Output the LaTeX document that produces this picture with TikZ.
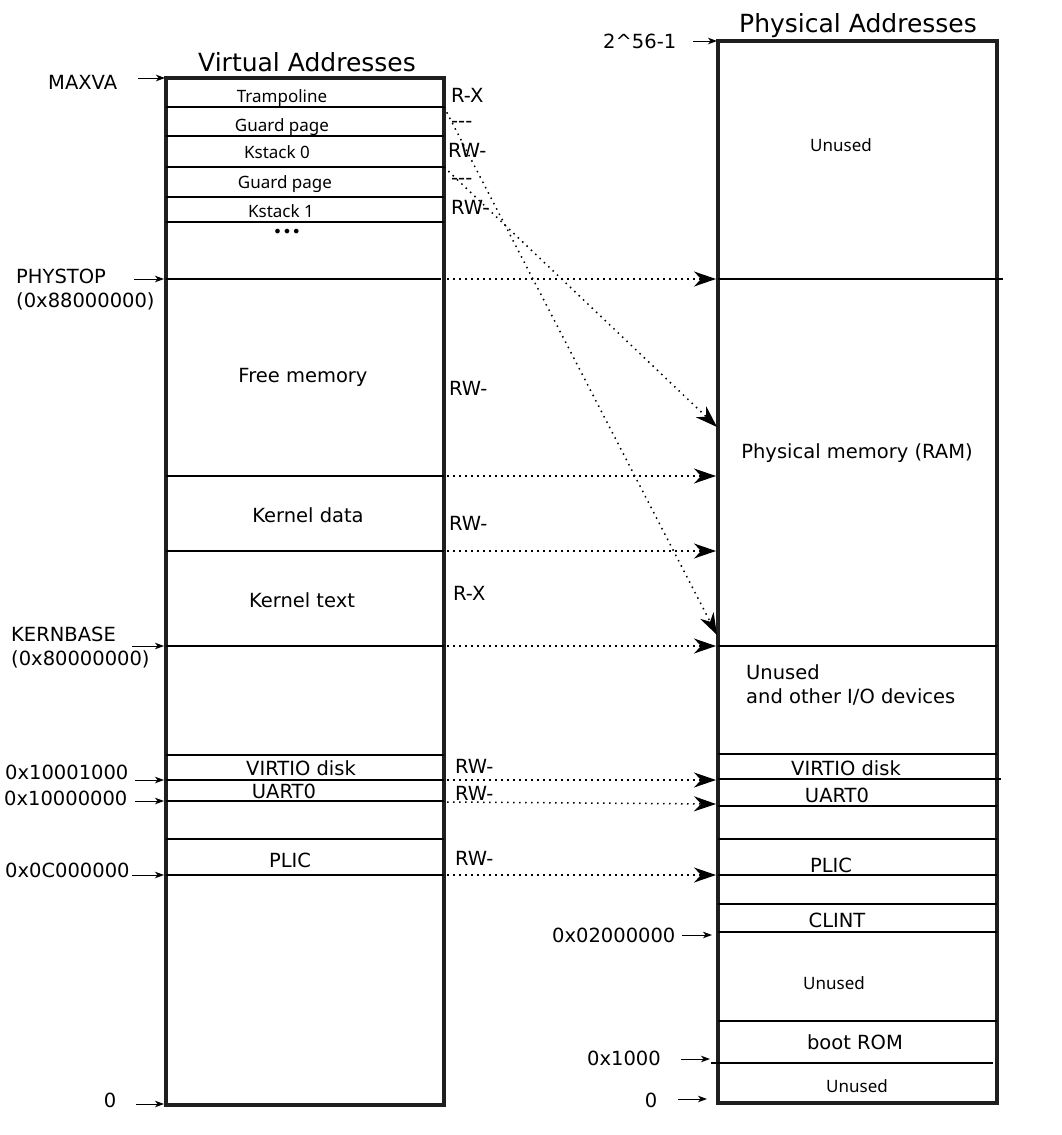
\documentclass[tikz,border=0pt]{standalone}
\usepackage{fontspec}
\setmainfont{DejaVu Sans}
\newfontfamily\notosans{Noto Sans}
\usetikzlibrary{arrows.meta}
\begin{document}
\begin{tikzpicture}[x=1pt,y=-1pt,
  box/.style={draw=black!88, line width=3.8pt, rectangle, inner sep=0pt, outer sep=0pt, anchor=north west},
  sep/.style={line width=1.3pt},
  lbl/.style={font=\fontsize{19.5}{22}\selectfont, inner sep=0pt, anchor=base},
  lbll/.style={lbl, anchor=base west},
  ttl/.style={font=\fontsize{25}{28}\selectfont, inner sep=0pt, anchor=base},
  sm/.style={font=\notosans\fontsize{17}{20}\selectfont, inner sep=0pt, anchor=base},
  ptr/.style={line width=1pt, -{Stealth[length=9pt,width=6.5pt,inset=2.5pt]}},
  map/.style={line width=1.5pt, dash pattern=on 1.5pt off 4.5pt, -{Stealth[length=22pt,width=15pt,inset=7pt]}},
]
\useasboundingbox (0,0) rectangle (1061,1135);

% ---------- boxes ----------
\node[box, minimum width=278pt, minimum height=1027pt] (vbox) at (166,78) {};
\node[box, minimum width=279pt, minimum height=1062pt] (pbox) at (718,41) {};

\node[ttl] (vtitle) at (307,71) {Virtual Addresses};
\node[ttl] (ptitle) at (858,32) {Physical Addresses};

% ---------- virtual separators ----------
\foreach \y in {107,136,167,197,222,476,551,646,755,780,801,839,875}
  \draw[sep] (166,\y) -- (444,\y);
\draw[sep] (166,279) -- (441,279);

% ---------- physical separators ----------
\foreach \y in {646,754,806,839,875,904,932,1021}
  \draw[sep] (718,\y) -- (997,\y);
\draw[sep] (718,279) -- (1003,279);
\draw[sep] (718,779) -- (1001,779);
\draw[sep] (711,1063) -- (993,1063);

% ---------- virtual texts ----------
\node[sm] (tramp) at (282,102) {Trampoline};
\node[sm] (guard1) at (282,131) {Guard page};
\node[sm] (kst0) at (277,158) {Kstack 0};
\node[sm] (guard2) at (285,188) {Guard page};
\node[sm] (kst1) at (281,217) {Kstack 1};
\node[font=\fontsize{16}{18}\selectfont, inner sep=0pt, anchor=base] (dots) at (287,237) {•••};
\node[lbl] (free) at (303,382) {Free memory};
\node[lbl] (kdata) at (308,522) {Kernel data};
\node[lbl] (ktext) at (302,607) {Kernel text};
\node[lbl] (vvirtio) at (301,775) {VIRTIO disk};
\node[lbl] (vuart) at (284,798) {UART0};
\node[lbl] (vplic) at (290,867) {PLIC};

% ---------- permissions ----------
\node[lbll] (p1) at (451,102) {R-X};
\node[lbll] (p2) at (451,127) {-\kern0pt-\kern0pt-};
\node[lbll] (p3) at (448,157) {RW-};
\node[lbll] (p4) at (451,184) {-\kern0pt-\kern0pt-};
\node[lbll] (p5) at (451,214) {RW-};
\node[lbll] (p6) at (449,395) {RW-};
\node[lbll] (p7) at (449,530) {RW-};
\node[lbll] (p8) at (453,600) {R-X};
\node[lbll] (p9) at (455,773) {RW-};
\node[lbll] (p10) at (455,800) {RW-};
\node[lbll] (p11) at (455,865) {RW-};

% ---------- physical texts ----------
\node[sm] (unused1) at (841,151) {Unused};
\node[lbl] (ram) at (857,458) {Physical memory (RAM)};
\node[lbll] (unused2) at (746,679) {Unused};
\node[lbll] (iodev) at (746,703) {and other I/O devices};
\node[lbl] (pvirtio) at (846,775) {VIRTIO disk};
\node[lbl] (puart) at (837,802) {UART0};
\node[lbl] (pplic) at (831,872) {PLIC};
\node[lbl] (clint) at (837,927) {CLINT};
\node[sm] (unused3) at (834,989) {Unused};
\node[lbl] (bootrom) at (855,1049) {boot ROM};
\node[sm] (unused4) at (857,1092) {Unused};

% ---------- virtual address labels ----------
\node[lbll] (maxva) at (48,89) {MAXVA};
\node[lbll] (phystop) at (16,283) {PHYSTOP};
\node[lbll] (phystopv) at (16,307) {(0x88000000)};
\node[lbll] (kernbase) at (11,641) {KERNBASE};
\node[lbll] (kernbasev) at (11,665) {(0x80000000)};
\node[lbll] (a1) at (5,779) {0x10001000};
\node[lbll] (a2) at (4,805) {0x10000000};
\node[lbll] (a3) at (5,877) {0x0C000000};
\node[lbl] (vzero) at (110,1107) {0};

% ---------- physical address labels ----------
\node[lbll] (pmax) at (603,48) {2\textasciicircum 56-1};
\node[lbll] (clintaddr) at (552,942) {0x02000000};
\node[lbll] (romaddr) at (587,1065) {0x1000};
\node[lbl] (pzero) at (651,1107) {0};

% ---------- pointer arrows ----------
\coordinate (s1) at (138,78);   \coordinate (e1) at (165,78);
\coordinate (s2) at (134,279);  \coordinate (e2) at (164,279);
\coordinate (s3) at (132,646);  \coordinate (e3) at (164,646);
\coordinate (s4) at (135,780);  \coordinate (e4) at (164,780);
\coordinate (s5) at (135,801);  \coordinate (e5) at (164,801);
\coordinate (s6) at (132,875);  \coordinate (e6) at (164,875);
\coordinate (s7) at (136,1104); \coordinate (e7) at (164,1104);
\coordinate (s8) at (693,41);   \coordinate (e8) at (717,41);
\coordinate (s9) at (682,935);  \coordinate (e9) at (712,935);
\coordinate (s10) at (681,1059); \coordinate (e10) at (710,1059);
\coordinate (s11) at (678,1099); \coordinate (e11) at (707,1099);
\foreach \i in {1,...,11} \draw[ptr] (s\i) -- (e\i);

% ---------- mapping arrows ----------
\coordinate (vPHYSTOP) at (447,279);  \coordinate (pPHYSTOP) at (716,279);
\coordinate (vKDATA) at (447,476);    \coordinate (pKDATA) at (716,476);
\coordinate (vKTEXT) at (447,551);    \coordinate (pKTEXT) at (716,551);
\coordinate (vKBASE) at (447,646);    \coordinate (pKBASE) at (716,646);
\coordinate (vVIRTIO) at (447,780);   \coordinate (pVIRTIO) at (716,780);
\coordinate (vUART) at (447,802);     \coordinate (pUART) at (716,804);
\coordinate (vPLIC) at (447,875);     \coordinate (pPLIC) at (716,875);
\coordinate (vTRAMP) at (444,107);    \coordinate (pTRAMP) at (717,635);
\coordinate (vKST) at (444,167);      \coordinate (pKST) at (717,427);
\foreach \n in {PHYSTOP,KDATA,KTEXT,KBASE,VIRTIO,UART,PLIC,TRAMP,KST}
  \draw[map] (v\n) -- (p\n);
\end{tikzpicture}
\end{document}
